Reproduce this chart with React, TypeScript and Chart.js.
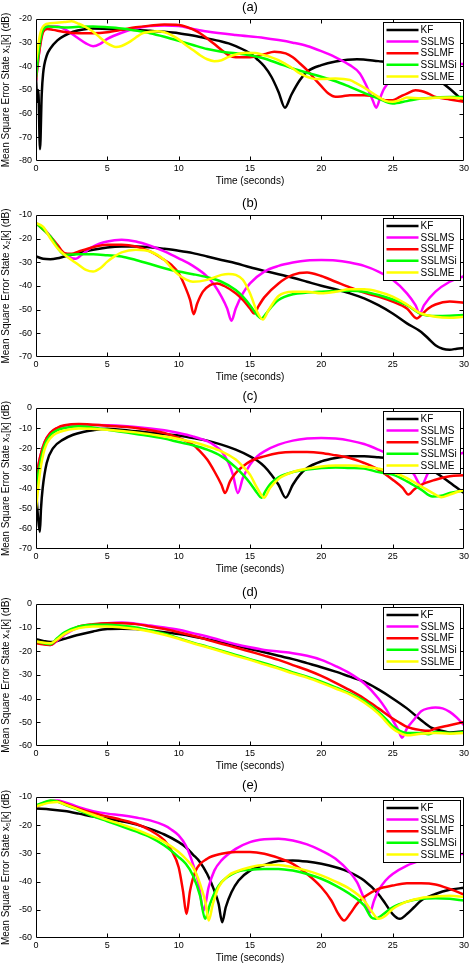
import React, { useEffect, useRef } from "react";
import { Chart, registerables } from "chart.js";

Chart.register(...registerables);

type Pt = [number, number];

const SERIES_NAMES = ["KF", "SSLMS", "SSLMF", "SSLMSi", "SSLME"];
const SERIES_COLORS = ["#000000", "#ff00ff", "#ff0000", "#00ff00", "#ffff00"];
const X_TICKS = [0, 5, 10, 15, 20, 25, 30];
const PANEL_LABELS = ["(a)", "(b)", "(c)", "(d)", "(e)"];
const Y_TITLES = [
  "Mean Square Error State x\u2081[k] (dB)",
  "Mean Square Error State x\u2082[k] (dB)",
  "Mean Square Error State x\u2083[k] (dB)",
  "Mean Square Error State x\u2084[k] (dB)",
  "Mean Square Error State x\u2085[k] (dB)",
];
const Y_MIN = [-80, -70, -70, -60, -60];
const Y_MAX = [-20, -10, 0, 0, -10];
const X_TITLE = "Time (seconds)";

// ---------- (a) ----------
const A_KF: Pt[] = [[0,-45],[0.1,-55],[0.16,-50],[0.28,-75],[0.4,-52],[0.5,-43],[0.75,-35.5],[1,-32.5],[1.5,-29],[2,-27],[2.6,-25.4],[3.3,-24.4],[4,-24],[5,-24.2],[6,-24.4],[7,-24.6],[8,-25],[9,-25.4],[10,-26],[11,-27],[12,-28.2],[13,-29.5],[13.5,-30.3],[14,-31.5],[15,-34.5],[15.5,-37],[16,-40],[16.5,-44.4],[17,-50.8],[17.45,-57.5],[17.9,-52],[18.5,-45.8],[19,-42.3],[20,-39.5],[21,-38],[22.5,-37],[24,-37.8],[25,-38.5],[26,-40],[27,-42],[28,-45],[29,-49.5],[30,-55]];
const A_SSLMS: Pt[] = [[0,-46],[0.2,-35],[0.4,-27],[0.7,-23.2],[1.5,-23.2],[2.2,-25],[2.8,-27.5],[3.5,-30.3],[4,-31.5],[4.5,-30.5],[5,-28.4],[6,-25.8],[7,-24],[8,-23],[9,-22.7],[10,-23],[11,-24.2],[12,-25.3],[14,-26.8],[16,-28],[17,-28.9],[18,-30],[19,-31.4],[20,-33.6],[21,-36.2],[22,-39.5],[22.7,-43],[23.2,-48.7],[23.6,-54.3],[23.85,-57.5],[24.1,-53.7],[24.4,-49.4],[25,-45],[26,-41],[27,-39.5],[28,-39],[30,-39]];
const A_SSLMF: Pt[] = [[0,-46],[0.2,-35],[0.5,-25.5],[0.8,-24.2],[1.2,-24.6],[2,-25.5],[3,-26],[4,-26],[5,-25.6],[6,-24.6],[7,-23.5],[8,-22.8],[9,-22.3],[10,-22.5],[10.5,-23.2],[11,-24.4],[11.5,-26],[12,-28.2],[12.5,-30.6],[13,-33.1],[13.5,-35.3],[14,-36.2],[15,-36.2],[16,-34.9],[16.7,-33.8],[17.5,-34.5],[18,-36.2],[18.5,-38.8],[19,-41.6],[19.5,-45.1],[20,-48.4],[20.5,-51.5],[21,-52.9],[21.5,-52.6],[22,-52.2],[23,-52.2],[24,-53.2],[24.5,-54.3],[25,-54.3],[25.5,-52.9],[26,-51.5],[26.6,-50.1],[27,-50.4],[27.5,-51.5],[28,-52.9],[29,-54],[30,-55]];
const A_SSLMSi: Pt[] = [[0,-45],[0.2,-33],[0.5,-24.5],[0.9,-23.2],[2,-23.6],[3,-23.3],[4,-23.2],[5,-23.5],[6,-24],[7,-24.9],[8,-26],[9,-27.5],[10,-29.2],[11,-31],[12,-32.7],[13,-33.8],[14,-34.5],[15,-35.3],[16,-36.7],[17,-38.8],[18,-40.9],[19,-42.7],[20,-44.4],[21,-46.3],[22,-48.7],[23,-51.2],[24,-53.6],[25,-55.7],[26,-54.7],[27,-53.6],[28,-53.2],[29,-53],[30,-53]];
const A_SSLME: Pt[] = [[0,-38],[0.3,-26],[0.6,-22.5],[1,-21.8],[2,-21.3],[2.5,-21],[3,-22],[3.5,-23.5],[4,-25.4],[4.5,-27.9],[5,-30.3],[5.6,-31.8],[6,-31.4],[6.5,-29.9],[7,-27.8],[7.5,-26],[8,-25.4],[8.5,-25.2],[9,-25.6],[9.5,-26.8],[10,-28.6],[10.5,-31],[11,-33.1],[11.5,-35.3],[12,-37],[12.5,-37.8],[13,-37.4],[13.5,-36],[14,-35],[14.7,-34.3],[15.5,-34.5],[16,-35.3],[16.5,-36.2],[17,-37.4],[17.5,-39.1],[18,-40.9],[18.5,-43],[19,-44.4],[19.5,-45.3],[20,-45.4],[21,-45.1],[22,-45.8],[22.5,-47.3],[23,-49],[24,-52.9],[24.5,-54.6],[25,-55],[25.5,-54.3],[26,-53.2],[27,-53.6],[28,-53.3],[29,-53.2],[30,-53.6]];

// ---------- (b) ----------
const B_KF: Pt[] = [[0,-27.5],[0.5,-28.5],[1,-28.7],[1.5,-28.3],[2,-27.5],[3,-26.1],[4,-24.7],[5,-23.7],[6,-23.3],[7,-23.3],[8,-23.6],[9,-24.3],[10,-25.1],[11,-26.1],[12,-27.5],[13,-29],[14,-30.4],[15,-32.1],[16,-33.6],[17,-35],[18,-36.5],[19,-38.2],[20,-39.9],[21,-41.4],[22,-43.1],[23,-45.2],[24,-48.1],[25,-51.6],[26,-55.8],[27,-59.4],[27.5,-62.2],[28,-65],[28.5,-66.5],[29,-66.9],[29.5,-66.5],[30,-66.2]];
const B_SSLMS: Pt[] = [[0,-13.8],[0.5,-15.5],[1,-19],[1.5,-23.3],[2,-26.4],[2.5,-28.3],[2.8,-28.5],[3.2,-26.8],[4,-23.3],[5,-21.2],[6,-20.5],[7,-21.2],[8,-23],[9,-25.4],[10,-28.3],[11,-31.5],[12,-36],[12.5,-39.6],[13,-44.5],[13.4,-49.5],[13.7,-54.7],[14,-49.5],[14.5,-43.1],[15,-38.9],[16,-33.9],[17,-31.5],[18,-30.1],[19,-29.2],[20,-29],[21,-29.2],[22,-30.1],[23,-31.5],[24,-33.9],[25,-37.4],[26,-43.1],[26.6,-48.1],[26.9,-51.6],[27.2,-48.1],[28,-42.4],[29,-38.2],[30,-35.8]];
const B_SSLMF: Pt[] = [[0,-13.4],[1,-19],[1.5,-22.6],[2,-26.1],[2.5,-26.4],[3,-25.4],[4,-23.6],[5,-22.6],[6,-22.6],[7,-23.3],[8,-25.4],[9,-29],[9.5,-31.1],[10,-34.6],[10.5,-41],[10.8,-45.9],[11.05,-51.9],[11.3,-47.4],[11.7,-42.4],[12.2,-39.6],[12.7,-38.9],[13.2,-40],[14,-43.1],[14.5,-45.9],[15,-49.5],[15.3,-51.6],[15.6,-48.5],[16,-44.8],[17,-38.9],[18,-35.3],[19,-34.3],[20,-35.8],[21,-38.2],[22,-40.6],[23,-42.8],[24,-44.5],[25,-46.6],[26,-49.5],[26.7,-53.7],[27,-52.3],[27.5,-49.5],[28,-47.8],[29,-46.6],[30,-47.1]];
const B_SSLMSi: Pt[] = [[0,-13.4],[1,-19],[2,-26.8],[3,-26.6],[4,-26.6],[5,-27],[6,-27.5],[7,-29],[8,-30.7],[9,-32.5],[10,-33.9],[11,-35],[12,-36.3],[13,-38.2],[14,-41.7],[14.5,-44.5],[15,-48.1],[15.5,-52.3],[15.8,-53.7],[16.1,-51.9],[16.5,-48.8],[17,-45.9],[18,-43.5],[19,-42.8],[20,-42.4],[21,-42.1],[22,-42],[23,-42.4],[24,-43.8],[25,-45.7],[26,-48.1],[27,-51.9],[28,-52.7],[29,-52.6],[30,-52.3]];
const B_SSLME: Pt[] = [[0,-13.4],[0.5,-15],[1,-19.8],[1.5,-24],[2,-26.8],[2.5,-29],[3,-31.1],[3.5,-33.2],[4,-33.9],[4.5,-32.5],[5,-29.7],[5.5,-27.5],[6,-25.8],[7,-24.7],[8,-25.4],[9,-29],[9.5,-32.5],[10,-35.3],[10.5,-37.2],[11,-38.2],[12,-37.4],[13,-35.3],[13.5,-34.9],[14,-35.3],[14.5,-37.4],[15,-43.1],[15.5,-50.9],[15.9,-54.2],[16.3,-50.2],[17,-44.2],[18,-42.4],[19,-42.4],[20,-43.1],[21,-42.4],[22,-41.4],[23,-41.4],[24,-42.4],[25,-44.5],[26,-47.8],[27,-51.6],[28,-53],[29,-53.4],[30,-53]];

// ---------- (c) ----------
const C_KF: Pt[] = [[0,-40],[0.15,-55],[0.27,-61.5],[0.35,-50],[0.47,-39.7],[0.75,-27.3],[1.2,-19.9],[1.9,-15.7],[2.6,-13.3],[3.3,-11.9],[4,-11],[5,-10.3],[7,-11.6],[9,-12.9],[10,-13.7],[11,-14.9],[12,-16.2],[13,-18.2],[14,-20.7],[15,-24],[15.5,-26.1],[16,-29],[16.5,-33.1],[17,-38.1],[17.5,-44.5],[18,-38.1],[18.5,-33.1],[19,-29.8],[20,-26.5],[21,-24.8],[22,-24],[23,-24],[24,-24.5],[25,-25.2],[26,-26.5],[27,-28.5],[28,-32],[29,-37],[30,-42.2]];
const C_SSLMS: Pt[] = [[0,-35],[0.3,-24],[0.6,-17],[1,-12.5],[1.5,-10],[2,-8.8],[3,-8.3],[5,-8.6],[7,-9.4],[9,-11.1],[10,-12.4],[11,-14.1],[12,-16.5],[12.5,-18.5],[13,-21.5],[13.5,-27.3],[13.8,-33.1],[14.15,-42.2],[14.5,-34.8],[15,-28.1],[15.5,-24],[16,-21.5],[17,-18.2],[18,-16.2],[19,-15.2],[20,-14.9],[21,-15.2],[22,-16.2],[23,-17.9],[24,-20.7],[25,-24],[26,-29],[26.5,-33],[27,-38.5],[27.5,-32],[28,-28],[29,-24.5],[30,-22]];
const C_SSLMF: Pt[] = [[0,-35],[0.3,-24],[0.6,-17],[1,-12.3],[1.5,-9.8],[2,-8.6],[3,-7.9],[5,-8.8],[7,-9.9],[9,-12.4],[10,-14.9],[11,-18.2],[11.5,-21.5],[12,-25.6],[12.5,-31.4],[13,-38.1],[13.25,-42.2],[13.6,-36.4],[14,-32.3],[14.5,-29],[15,-26.5],[16,-24],[17,-22.3],[18,-21.8],[19,-21.8],[20,-22.3],[21,-23.5],[22,-24.8],[23,-27.3],[24,-30.6],[25,-35.6],[25.7,-39.7],[26.1,-43],[26.5,-40.5],[27,-38.1],[28,-35.6],[29,-33.9],[30,-33.4]];
const C_SSLMSi: Pt[] = [[0,-40],[0.3,-27],[0.6,-18.5],[1,-13.5],[1.5,-11],[2,-9.9],[3,-9.1],[5,-10.8],[7,-12.9],[9,-15.2],[10,-16.9],[11,-18.5],[12,-20.7],[13,-24],[14,-29.5],[14.5,-33.1],[15,-37.2],[15.5,-42.2],[15.8,-44.5],[16.1,-41],[16.5,-37.2],[17,-34.4],[18,-31.8],[19,-30.6],[20,-29.8],[21,-29.5],[22,-29.8],[23,-30.1],[24,-31.8],[25,-33.1],[26,-36.4],[27,-40.5],[27.8,-43.9],[28.5,-43.4],[29,-42.2],[30,-41]];
const C_SSLME: Pt[] = [[0,-50],[0.3,-31],[0.6,-20.5],[1,-15],[1.5,-12.3],[2,-11.2],[3,-10.2],[5,-10.8],[7,-12.1],[9,-14.1],[10,-15.4],[11,-16.9],[12,-19],[13,-21.5],[14,-25.6],[14.5,-29],[15,-33.1],[15.5,-39.7],[16,-44.5],[16.4,-39.7],[17,-35.2],[18,-31.8],[19,-30.1],[20,-29],[21,-28.6],[22,-28.6],[23,-29],[24,-30.1],[25,-31.8],[26,-34.8],[27,-38.9],[28,-43],[28.4,-44.3],[29,-43],[30,-40.5]];

// ---------- (d) ----------
const D_KF: Pt[] = [[0,-14.9],[0.5,-15.6],[1,-16.1],[1.5,-15.6],[2,-14.7],[3,-13],[4,-11.6],[5,-10.6],[6,-10.5],[7,-10.6],[8,-11.2],[9,-11.9],[10,-12.7],[11,-13.7],[12,-14.9],[13,-16.1],[14,-17.5],[15,-19],[16,-20.4],[17,-21.9],[18,-23.3],[19,-25],[20,-26.7],[21,-28.6],[22,-30.7],[23,-32.8],[24,-36.1],[25,-39.9],[26,-44.1],[27,-49.1],[27.7,-52.2],[28.5,-53.6],[29,-54.3],[30,-53.8]];
const D_SSLMS: Pt[] = [[0,-16.3],[0.5,-16.8],[1,-17.3],[1.5,-15.4],[2,-13],[3,-9.9],[4,-8.8],[5,-8.1],[6,-7.8],[7,-8.3],[8,-9.1],[9,-9.9],[10,-10.9],[11,-12.3],[12,-13.7],[13,-15.4],[14,-17],[15,-18.3],[16,-19.4],[17,-20.1],[18,-20.8],[19,-21.9],[20,-23.6],[21,-26.2],[22,-29.3],[23,-33.5],[24,-39.9],[24.5,-44.1],[25,-49.1],[25.4,-53.3],[25.65,-56.5],[26,-52.6],[26.5,-48.8],[27,-45.3],[27.5,-44.1],[28,-43.7],[28.5,-44.1],[29,-45.6],[29.5,-48],[30,-51.2]];
const D_SSLMF: Pt[] = [[0,-16.6],[1,-17.3],[1.5,-15.1],[2,-12.6],[3,-9.5],[4,-8.5],[5,-8.1],[6,-8.1],[7,-8.5],[8,-9.5],[9,-10.6],[10,-11.9],[11,-13.4],[12,-15.1],[13,-16.8],[14,-18.4],[15,-20.1],[16,-21.8],[17,-23.6],[18,-25.8],[19,-27.9],[20,-30.4],[21,-33.3],[22,-36.4],[23,-39.9],[24,-44.1],[25,-48.4],[25.5,-50.2],[26,-51.9],[27,-53.3],[27.5,-53.6],[28,-52.6],[29,-51.2],[30,-49.8]];
const D_SSLMSi: Pt[] = [[0,-15.8],[1,-17],[1.5,-14.4],[2,-12],[3,-9.5],[4,-8.8],[5,-8.8],[6,-9.2],[7,-9.9],[8,-11.2],[9,-12.6],[10,-14.4],[11,-16.3],[12,-18],[13,-19.7],[14,-21.5],[15,-23.3],[16,-25],[17,-26.9],[18,-28.9],[19,-30.7],[20,-32.8],[21,-35.2],[22,-37.8],[23,-40.9],[24,-45.6],[24.5,-48.4],[25,-51.6],[25.5,-53.6],[26,-54.5],[27,-54.5],[27.5,-55],[28,-54.1],[29,-54.5],[30,-54.1]];
const D_SSLME: Pt[] = [[0,-15.8],[1,-16.6],[1.5,-14.9],[2,-12.6],[3,-10.2],[4,-9.5],[5,-9.5],[6,-9.9],[7,-10.6],[8,-11.6],[9,-13],[10,-14.7],[11,-16.6],[12,-18.3],[13,-20.1],[14,-21.9],[15,-23.6],[16,-25.5],[17,-27.3],[18,-29.3],[19,-31.1],[20,-33.3],[21,-35.7],[22,-38.2],[23,-41.6],[24,-46.3],[25,-52.6],[25.5,-54.5],[26,-55.5],[27,-54.8],[28,-54.5],[29,-54.8],[30,-54.5]];

// ---------- (e) ----------
const E_KF: Pt[] = [[0,-14.1],[1,-14.4],[2,-15],[3,-15.9],[4,-16.9],[5,-17.7],[6,-18.6],[7,-19.7],[8,-21.3],[9,-23.3],[10,-26],[10.5,-27.8],[11,-30.4],[11.5,-33.1],[12,-37.3],[12.5,-43.2],[12.8,-47.9],[13.05,-54.4],[13.3,-49.1],[13.7,-43.8],[14.2,-39.6],[15,-36.1],[16,-34.1],[17,-32.7],[18,-32.5],[19,-32.9],[20,-33.7],[21,-34.9],[22,-36.7],[23,-39.6],[24,-44.4],[24.5,-47.9],[25,-51.5],[25.5,-53.2],[26,-51.5],[26.5,-49.1],[27,-46.7],[28,-44.4],[29,-42.9],[30,-42.2]];
const E_SSLMS: Pt[] = [[0,-13.3],[0.5,-12.4],[1,-11.4],[1.5,-11.2],[2,-11.8],[3,-13.6],[4,-15],[5,-15.9],[6,-16.5],[7,-17.3],[8,-18.3],[9,-20.1],[9.5,-21.6],[10,-23.6],[10.5,-27.2],[11,-33.7],[11.4,-40.8],[11.75,-50.3],[12.1,-42],[12.5,-36.1],[13,-32.5],[14,-28.4],[15,-26],[16,-25],[17,-24.8],[18,-25.4],[19,-26.8],[20,-29],[21,-31.9],[22,-36.7],[22.5,-40.2],[23,-46.1],[23.4,-50.9],[23.7,-46.7],[24,-43.2],[24.5,-39.6],[25,-37.3],[26,-34.3],[27,-32.5],[28,-31.2],[30,-30.1]];
const E_SSLMF: Pt[] = [[0,-13.3],[0.5,-12.2],[1,-11.4],[1.5,-11.5],[2,-12.4],[3,-14.1],[4,-15.7],[5,-16.9],[6,-18.1],[7,-19.5],[8,-21.8],[9,-25.4],[9.5,-29],[10,-34.9],[10.3,-43.2],[10.55,-51.5],[10.8,-43.2],[11.2,-36.1],[12,-31.9],[13,-30.1],[14,-29.5],[15,-29.5],[16,-30.1],[17,-31.6],[18,-33.7],[19,-37.3],[20,-42],[20.7,-46.7],[21.2,-51.5],[21.6,-53.8],[22,-51.5],[22.5,-47.9],[23,-45.5],[24,-42.6],[25,-41.4],[26,-40.6],[27,-40.6],[28,-41],[29,-42.6],[30,-44.6]];
const E_SSLMSi: Pt[] = [[0,-13],[0.5,-12],[1,-11.2],[1.5,-11.6],[2,-12.7],[3,-14.7],[4,-16.9],[5,-18.6],[6,-20.4],[7,-22.2],[8,-24.2],[9,-27.2],[10,-31.3],[10.5,-33.7],[11,-37.8],[11.5,-45],[11.85,-53.2],[12.2,-47.9],[12.6,-43.2],[13,-40.2],[14,-36.7],[15,-35.8],[16,-35.5],[17,-35.5],[18,-36.1],[19,-37.3],[20,-39],[21,-41.4],[22,-44.4],[23,-48.5],[23.5,-52.7],[23.8,-53.2],[24.2,-52.1],[25,-49.1],[26,-47.1],[27,-46.1],[28,-45.9],[29,-46.1],[30,-46.7]];
const E_SSLME: Pt[] = [[0,-13.3],[1,-12],[1.5,-11.8],[2,-12.6],[3,-14.5],[4,-16.3],[5,-18.1],[6,-19.7],[7,-21.5],[8,-23.6],[9,-26],[10,-29.5],[10.5,-31.9],[11,-34.9],[11.5,-40.8],[11.9,-47.9],[12.1,-53.8],[12.4,-47.9],[12.8,-42],[13.5,-37.8],[14,-36.5],[15,-34.9],[16,-34.1],[17,-34.1],[18,-34.9],[19,-36.1],[20,-37.8],[21,-40],[22,-42.6],[23,-46.7],[23.5,-50.3],[24,-53.2],[24.5,-52.1],[25,-49.7],[26,-47.1],[27,-45.8],[28,-45.3],[29,-45],[30,-45.5]];

const PANEL_SERIES: Pt[][][] = [
  [A_KF, A_SSLMS, A_SSLMF, A_SSLMSi, A_SSLME],
  [B_KF, B_SSLMS, B_SSLMF, B_SSLMSi, B_SSLME],
  [C_KF, C_SSLMS, C_SSLMF, C_SSLMSi, C_SSLME],
  [D_KF, D_SSLMS, D_SSLMF, D_SSLMSi, D_SSLME],
  [E_KF, E_SSLMS, E_SSLMF, E_SSLMSi, E_SSLME],
];

// layout (pixels)
const W = 471;
const PLOT_TOP = [19, 215, 408, 604, 797];
const PLOT_H = [142, 142, 141, 142, 141];
const TITLE_SPACE = 19;
const XAXIS_H = 26;
const YAXIS_W = 36;
const RIGHT_PAD = 5;
const FONT = "'Liberation Sans', Arial, Helvetica, sans-serif";

function makeFramePlugin(idx: number) {
  return {
    id: "frame" + idx,
    afterDatasetsDraw(chart: any) {
      const { ctx, chartArea } = chart;
      const { left, right, top, bottom } = chartArea;
      const xs = chart.scales.x;
      const ys = chart.scales.y;
      ctx.save();
      ctx.strokeStyle = "#000";
      ctx.lineWidth = 1;
      const L = Math.round(left) + 0.5;
      const R = Math.round(right) - 0.5;
      const T = Math.round(top) + 0.5;
      const B = Math.round(bottom) - 0.5;
      ctx.beginPath();
      ctx.rect(L, T, R - L, B - T);
      const tl = 4;
      xs.ticks.forEach((t: any) => {
        const px = Math.round(xs.getPixelForValue(t.value)) + 0.5;
        if (px <= L + 1 || px >= R - 1) return;
        ctx.moveTo(px, B); ctx.lineTo(px, B - tl);
        ctx.moveTo(px, T); ctx.lineTo(px, T + tl);
      });
      ys.ticks.forEach((t: any) => {
        const py = Math.round(ys.getPixelForValue(t.value)) + 0.5;
        if (py <= T + 1 || py >= B - 1) return;
        ctx.moveTo(L, py); ctx.lineTo(L + tl, py);
        ctx.moveTo(R, py); ctx.lineTo(R - tl, py);
      });
      ctx.stroke();
      ctx.restore();
    },
    afterDraw(chart: any) {
      const { ctx, chartArea } = chart;
      ctx.save();
      // panel title
      ctx.fillStyle = "#000";
      ctx.font = `13px ${FONT}`;
      ctx.textAlign = "center";
      ctx.textBaseline = "middle";
      ctx.fillText(PANEL_LABELS[idx], (chartArea.left + chartArea.right) / 2, chartArea.top - 12);
      // legend
      const bw = 77;
      const bh = 62;
      const bx = Math.round(chartArea.right) - 4 - bw + 0.5;
      const by = Math.round(chartArea.top) + 3 + 0.5;
      ctx.fillStyle = "#fff";
      ctx.fillRect(bx, by, bw, bh);
      ctx.strokeStyle = "#000";
      ctx.lineWidth = 1;
      ctx.strokeRect(bx, by, bw, bh);
      ctx.font = `10px ${FONT}`;
      ctx.textAlign = "left";
      ctx.textBaseline = "middle";
      chart.data.datasets.forEach((ds: any, i: number) => {
        const y = by + 7.5 + i * 11.6;
        ctx.strokeStyle = ds.borderColor;
        ctx.lineWidth = 2.5;
        ctx.beginPath();
        ctx.moveTo(bx + 3, y);
        ctx.lineTo(bx + 35, y);
        ctx.stroke();
        ctx.fillStyle = "#000";
        ctx.fillText(ds.label, bx + 37, y + 0.5);
      });
      ctx.restore();
    },
  };
}

function Panel({ idx }: { idx: number }) {
  const ref = useRef<HTMLCanvasElement>(null);
  const height = TITLE_SPACE + PLOT_H[idx] + XAXIS_H;
  useEffect(() => {
    const canvas = ref.current!;
    const chart = new Chart(canvas, {
      type: "line",
      data: {
        datasets: PANEL_SERIES[idx].map((s, i) => ({
          label: SERIES_NAMES[i],
          data: s.map(([x, y]) => ({ x, y })),
          borderColor: SERIES_COLORS[i],
          backgroundColor: SERIES_COLORS[i],
          borderWidth: 2.5,
          pointRadius: 0,
          fill: false,
          cubicInterpolationMode: "monotone",
          order: SERIES_NAMES.length - i,
        })),
      },
      options: {
        animation: false,
        responsive: false,
        maintainAspectRatio: false,
        devicePixelRatio: 1,
        events: [],
        layout: { padding: { top: TITLE_SPACE, right: RIGHT_PAD, bottom: 0, left: 0 } },
        plugins: {
          legend: { display: false },
          title: { display: false },
          tooltip: { enabled: false },
        },
        scales: {
          x: {
            type: "linear",
            min: 0,
            max: 30,
            afterFit: (s: any) => { s.height = XAXIS_H; },
            afterBuildTicks: (s: any) => { s.ticks = X_TICKS.map((v) => ({ value: v })); },
            grid: { display: false, drawTicks: false },
            border: { display: false },
            ticks: { font: { family: FONT, size: 9 }, color: "#000", padding: 2, maxRotation: 0, autoSkip: false },
            title: { display: true, text: X_TITLE, font: { family: FONT, size: 10 }, color: "#000", padding: { top: 0, bottom: 0 } },
          },
          y: {
            type: "linear",
            min: Y_MIN[idx],
            max: Y_MAX[idx],
            afterFit: (s: any) => { s.width = YAXIS_W; },
            grid: { display: false, drawTicks: false },
            border: { display: false },
            ticks: { stepSize: 10, font: { family: FONT, size: 9 }, color: "#000", padding: 4 },
            title: { display: true, text: Y_TITLES[idx], font: { family: FONT, size: 10 }, color: "#000", padding: { top: 0, bottom: 0 } },
          },
        },
      } as any,
      plugins: [makeFramePlugin(idx)],
    });
    return () => chart.destroy();
  }, [idx]);
  return (
    <canvas
      ref={ref}
      width={W}
      height={height}
      style={{ position: "absolute", left: 0, top: PLOT_TOP[idx] - TITLE_SPACE, width: W, height }}
    />
  );
}

export default function App() {
  return (
    <div style={{ position: "fixed", left: 0, top: 0, width: W, height: 963, background: "#fff", overflow: "hidden" }}>
      {PANEL_LABELS.map((_, i) => (
        <Panel key={i} idx={i} />
      ))}
    </div>
  );
}
